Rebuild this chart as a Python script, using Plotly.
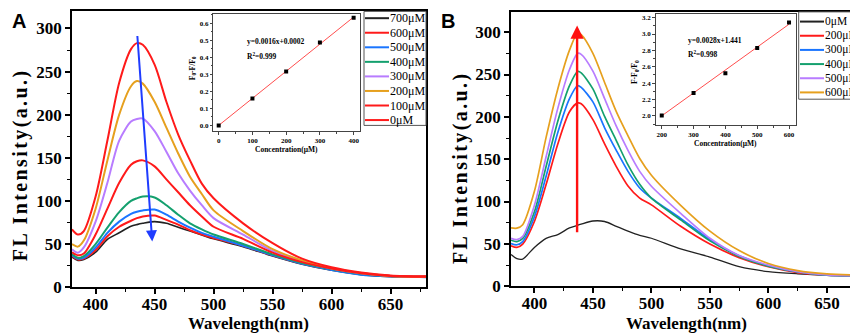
import plotly.graph_objects as go

# ---------------- data ----------------
wavelength_a = [380, 385, 390, 400, 410, 420, 430, 435, 440, 450, 460, 470, 480, 490, 500, 525, 550, 575, 600, 625, 650, 680]
labels_a = ["700μM", "600μM", "500μM", "400μM", "300μM", "200μM", "100μM", "0μM"]
colors_a = ["#222222", "#ff1a1a", "#1a75ff", "#14a06e", "#b87cff", "#e6a01e", "#ff1a1a", "#ff1a1a"]
a_700 = [35, 31, 32, 40.5, 55.5, 63, 70.5, 72.5, 74, 76, 74, 69.5, 65, 60.5, 56, 47, 36, 26.5, 19.5, 14.5, 12, 11.5]
a_600 = [36, 32, 33, 43, 59, 70, 77, 80, 82, 83, 78, 72.5, 66, 61, 57, 48, 37, 27.5, 20.5, 15.5, 13, 12]
a_500 = [37, 33, 34, 46, 63, 76, 85, 87.5, 89, 90, 84, 76, 69, 63, 58.5, 48, 37, 27, 20, 14.5, 12.5, 11.5]
a_400 = [38.5, 34, 36, 50, 69, 87, 100, 103, 105, 104, 95, 84, 74, 67, 61, 50, 38, 28, 21, 15.5, 13, 12]
a_300 = [44, 40, 46, 76, 121, 170, 192, 195, 195.5, 181, 157, 132, 112, 95, 80, 61, 42, 30, 21.5, 16, 13, 12]
a_200 = [50, 47, 54, 91, 147, 200, 233, 239, 236, 215, 185, 155, 128, 108, 89, 65, 44, 31, 22, 16.5, 13, 12]
a_100 = [40.5, 37, 39, 61, 91, 121, 142, 146, 147, 140, 125, 110, 95, 82, 70, 56, 40, 29, 21.5, 16, 13, 12]
a_0 = [67, 61, 65, 105, 170, 237, 276, 283, 281, 258, 215, 177, 147, 120, 103, 74, 51, 33, 23, 17, 13.5, 12.5]
series_a = [a_700, a_600, a_500, a_400, a_300, a_200, a_100, a_0]

wavelength_b = [380, 385, 390, 400, 410, 420, 430, 437, 440, 450, 460, 470, 480, 490, 500, 525, 550, 575, 600, 625, 650, 680]
labels_b = ["0μM", "200μM", "300μM", "400μM", "500μM", "600μM"]
colors_b = ["#222222", "#ff1a1a", "#1a75ff", "#14a06e", "#b87cff", "#e6a01e"]
b_0 = [37.5, 32.5, 32, 45.8, 56.5, 61, 68.8, 72, 73.3, 77, 76.4, 70.7, 65, 60, 56.6, 44, 34.4, 23, 17.2, 14.6, 13, 12.3]
b_200 = [47.8, 45.8, 49.7, 76.4, 120, 168, 206, 216.5, 215.4, 196.7, 168, 141.3, 118.4, 104, 96, 70.7, 49.7, 33.7, 23, 16.1, 13, 12.3]
b_300 = [50.4, 48.9, 52.7, 82, 129.8, 181.4, 221.5, 236.8, 234.8, 217.7, 187.1, 160.4, 135.6, 116, 104, 80, 55, 36, 24, 17, 13, 12.3]
b_400 = [54.3, 52.7, 56.5, 87.9, 141.3, 194.8, 236.8, 253.6, 252, 233, 200.5, 171.9, 143.2, 120.3, 104, 78.3, 53.5, 35.2, 23.7, 16.9, 13, 12.3]
b_500 = [56.5, 55, 58.8, 95.5, 152.8, 210, 255.9, 275, 273.8, 254, 221.5, 189, 160.4, 135.6, 118, 86, 56.6, 36.3, 24.9, 17.2, 13.4, 12.3]
b_600 = [68.8, 68.5, 72.6, 112, 175.7, 233, 278.8, 299, 297, 275, 240.6, 206.2, 177.6, 150.8, 131, 95.5, 65, 42, 26.8, 18.4, 14.6, 13]
series_b = [b_0, b_200, b_300, b_400, b_500, b_600]

conc_a = [0, 100, 200, 300, 400]
ratio_a = [0.0, 0.158, 0.317, 0.486, 0.632]
fit_a_x = [0, 400]
fit_a_y = [0.0, 0.636]
eq_a = ["y=0.0016x+0.0002", "R<sup>2</sup>=0.999"]

conc_b = [200, 300, 400, 500, 600]
ratio_b = [2.005, 2.28, 2.519, 2.829, 3.141]
fit_b_x = [200, 600]
fit_b_y = [2.0, 3.12]
eq_b = ["y=0.0028x+1.441", "R<sup>2</sup>=0.998"]

arrow_a = dict(tail=(435.3, 293), head=(448, 53))
arrow_b = dict(tail=(436.5, 62), head=(436.5, 308))

# ---------------- layout helpers ----------------
W, H = 858, 336
def px(x):
    return x / W
def py(y):
    return 1 - y / H

SERIF = "Liberation Serif, Times New Roman, serif"

fig = go.Figure()

for vals, name, col in zip(series_a, labels_a, colors_a):
    fig.add_trace(go.Scatter(x=wavelength_a, y=vals, name=name, mode="lines",
                             line=dict(color=col, width=2 if col != "#222222" else 1.6, shape="spline", smoothing=0.8),
                             xaxis="x", yaxis="y", showlegend=False))
for vals, name, col in zip(series_b, labels_b, colors_b):
    fig.add_trace(go.Scatter(x=wavelength_b, y=vals, name=name, mode="lines",
                             line=dict(color=col, width=1.7 if col != "#222222" else 1.3, shape="spline", smoothing=0.8),
                             xaxis="x2", yaxis="y2", showlegend=False))

# insets
fig.add_trace(go.Scatter(x=fit_a_x, y=fit_a_y, mode="lines", line=dict(color="#ff4d4d", width=1),
                         xaxis="x3", yaxis="y3", showlegend=False))
fig.add_trace(go.Scatter(x=conc_a, y=ratio_a, mode="markers", marker=dict(color="black", size=4, symbol="square"),
                         xaxis="x3", yaxis="y3", showlegend=False))
fig.add_trace(go.Scatter(x=fit_b_x, y=fit_b_y, mode="lines", line=dict(color="#ff4d4d", width=1),
                         xaxis="x4", yaxis="y4", showlegend=False))
fig.add_trace(go.Scatter(x=conc_b, y=ratio_b, mode="markers", marker=dict(color="black", size=4, symbol="square"),
                         xaxis="x4", yaxis="y4", showlegend=False))

main_tick = dict(family=SERIF, size=17, color="black", weight="bold")
def main_axis(domain, rng, dtick, minor, anchor, standoff):
    return dict(domain=domain, range=rng, dtick=dtick, tick0=0, showline=True, mirror=True,
                linecolor="black", linewidth=1.5, ticks="outside", ticklen=5, tickwidth=1.5,
                tickcolor="black", tickfont=main_tick, showgrid=False, zeroline=False,
                minor=dict(dtick=minor, ticklen=3, tickwidth=1.2, ticks="outside", tickcolor="black", showgrid=False),
                anchor=anchor, ticklabelstandoff=standoff)

inset_tick = dict(family=SERIF, size=7, color="black", weight="bold")
def inset_axis(domain, rng, dtick, minor, anchor, fmt=None, tick0=0):
    d = dict(domain=domain, range=rng, dtick=dtick, tick0=tick0, showline=True, mirror=True,
             linecolor="#444444", linewidth=1, ticks="outside", ticklen=2.5, tickwidth=1,
             tickcolor="#444444", tickfont=inset_tick, showgrid=False, zeroline=False,
             minor=dict(dtick=minor, ticklen=1.5, tickwidth=0.8, ticks="outside", tickcolor="#444444", showgrid=False),
             anchor=anchor, ticklabelstandoff=0)
    if fmt:
        d["tickformat"] = fmt
    return d

ydomA = [py(287.7), py(3.3)]
ydomB = [py(286.7), py(4)]
fig.update_layout(
    width=W, height=H, margin=dict(l=0, r=0, t=0, b=0),
    paper_bgcolor="white", plot_bgcolor="white", showlegend=False,
    xaxis=main_axis([px(64), px(418)], [380, 680], 50, 25, "y", -4),
    yaxis=main_axis(ydomA, [0, 320], 50, 25, "x", 0),
    xaxis2=main_axis([px(503), px(854)], [380, 680], 50, 25, "y2", -4),
    yaxis2=main_axis(ydomB, [0, 324], 50, 25, "x2", 0),
    xaxis3=inset_axis([px(205.3), px(351.7)], [-16, 418], 100, 50, "y3"),
    yaxis3=inset_axis([py(127), py(6)], [-0.034, 0.655], 0.1, 0.05, "x3", ".1f"),
    xaxis4=inset_axis([px(647.7), px(787.7)], [181, 621], 100, 50, "y4", tick0=200),
    yaxis4=inset_axis([py(121), py(6)], [1.883, 3.247], 0.2, 0.1, "x4", ".1f", tick0=2.0),
)

ann = []
shapes = []
def text(x, y, t, size, xanchor="center", yanchor="middle", angle=0, weight="bold", family=SERIF):
    ann.append(dict(x=px(x), y=py(y), xref="paper", yref="paper", text=t, showarrow=False,
                    xanchor=xanchor, yanchor=yanchor, textangle=angle, borderpad=0,
                    font=dict(family=family, size=size, color="black", weight=weight)))

# axis titles
ytitle = '<span style="letter-spacing:2.4px">FL Intensity(a.u.)</span>'
text(241, 325, "Wavelength(nm)", 17)
text(678.5, 325, "Wavelength(nm)", 17)
text(12, 162, ytitle, 20, angle=-90)
text(452, 165, ytitle, 20, angle=-90)
# panel letters
text(3, 13, "A", 20, xanchor="left", family="Liberation Sans, Arial, sans-serif")
text(432, 13, "B", 20, xanchor="left", family="Liberation Sans, Arial, sans-serif")
# inset titles
text(278, 146, "Concentration(μM)", 7.5)
text(717, 139.5, "Concentration(μM)", 7.5)
text(185, 62, "F<sub>0</sub>-F/F<sub>0</sub>", 7.5, angle=-90)
text(627, 66, "F-F<sub>0</sub>/F<sub>0</sub>", 7.5, angle=-90)
# equations
text(238, 35, eq_a[0], 7.5, xanchor="left")
text(238, 49, eq_a[1], 7.5, xanchor="left")
text(679, 33, eq_b[0], 7.5, xanchor="left")
text(679, 47, eq_b[1], 7.5, xanchor="left")

# arrows
ann.append(dict(x=arrow_a["head"][0], y=arrow_a["head"][1], ax=arrow_a["tail"][0], ay=arrow_a["tail"][1],
                xref="x", yref="y", axref="x", ayref="y", showarrow=True, arrowhead=2, arrowsize=1.1,
                arrowwidth=2, arrowcolor="#1f3cff", text=""))
ann.append(dict(x=arrow_b["head"][0], y=arrow_b["head"][1], ax=arrow_b["tail"][0], ay=arrow_b["tail"][1],
                xref="x2", yref="y2", axref="x2", ayref="y2", showarrow=True, arrowhead=2, arrowsize=1.1,
                arrowwidth=2.4, arrowcolor="#ff1010", text=""))

# legends (drawn manually, Origin style)
def legend(box, labels, colors, y0, step, lx0, lx1, tx, fsize):
    shapes.append(dict(type="rect", xref="paper", yref="paper", x0=px(box[0]), x1=px(box[1]),
                       y0=py(box[3]), y1=py(box[2]), line=dict(color="#555555", width=1), fillcolor="white", layer="above"))
    for i, (lab, col) in enumerate(zip(labels, colors)):
        yy = y0 + i * step
        shapes.append(dict(type="line", xref="paper", yref="paper", x0=px(lx0), x1=px(lx1), y0=py(yy), y1=py(yy),
                           line=dict(color=col, width=2), layer="above"))
        ann.append(dict(x=px(tx), y=py(yy), xref="paper", yref="paper", text=lab, showarrow=False,
                        xanchor="left", yanchor="middle", borderpad=0,
                        font=dict(family=SERIF, size=fsize, color="black")))

legend((356, 418, 3.5, 121), labels_a, colors_a, 10.5, 15.0, 357, 381, 381, 12)
legend((790.7, 853, 4, 94), labels_b, colors_b, 14, 14.6, 792, 816, 816, 11.5)

fig.update_layout(annotations=ann, shapes=shapes)
fig.write_html("out.html")
